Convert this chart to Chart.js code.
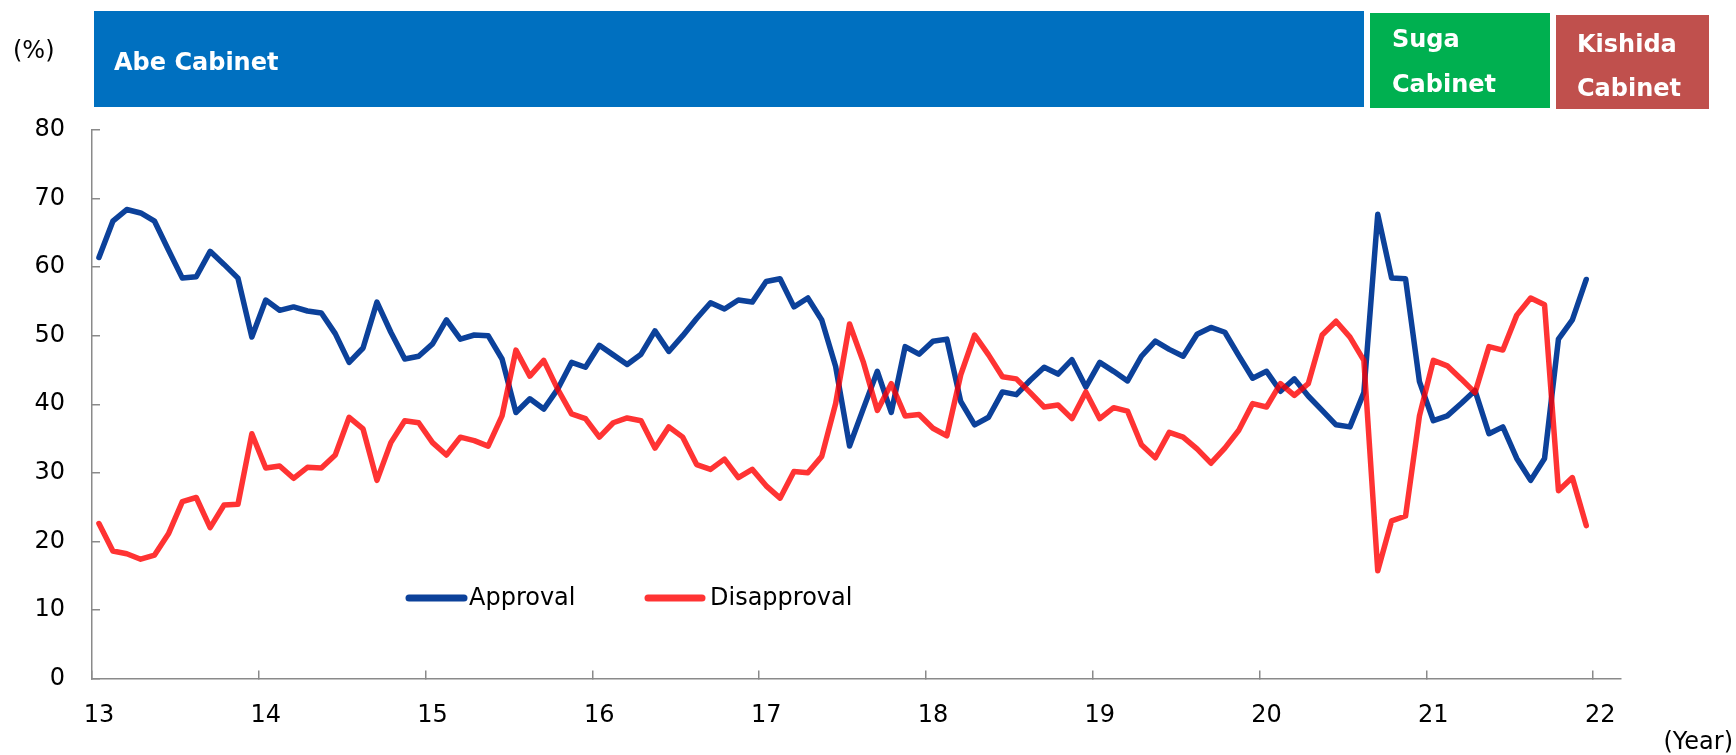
<!DOCTYPE html>
<html>
<head>
<meta charset="utf-8">
<script src="https://cdn.jsdelivr.net/npm/chart.js@4"></script>
<style>
  body { margin: 0; background: #fff; }
  #wrap { width: 1736px; height: 755px; position: relative; }
</style>
</head>
<body>
<div id="wrap"><canvas id="chart"></canvas></div>
<script>
// monthly survey results, Jan 2013 - Dec 2021
const yearLabels = ['13', '14', '15', '16', '17', '18', '19', '20', '21', '22'];
const approval = [
  61.4, 66.7, 68.4, 67.9, 66.7, 62.5, 58.4, 58.6, 62.3, 60.4, 58.4, 49.8,
  55.2, 53.7, 54.2, 53.6, 53.3, 50.3, 46.1, 48.2, 54.9, 50.5, 46.6, 47.0,
  48.8, 52.3, 49.5, 50.1, 50.0, 46.6, 38.8, 40.8, 39.3, 42.2, 46.1, 45.4,
  48.6, 47.2, 45.8, 47.3, 50.7, 47.7, 50.0, 52.5, 54.8, 53.9, 55.2, 54.9,
  57.9, 58.3, 54.2, 55.5, 52.3, 45.5, 33.9, 39.4, 44.8, 38.8, 48.4, 47.3,
  49.2, 49.5, 40.4, 37.0, 38.1, 41.8, 41.4, 43.5, 45.4, 44.4, 46.5, 42.5,
  46.1, 44.8, 43.4, 47.0, 49.2, 48.0, 47.0, 50.2, 51.2, 50.5, 47.1, 43.8,
  44.8, 41.9, 43.7, 41.2, 39.1, 37.0, 36.7, 41.7, 67.7, 58.4, 58.3, 43.3,
  37.6, 38.3, 40.1, 42.0, 35.7, 36.7, 32.1, 28.9, 32.1, 49.5, 52.3, 58.2
];
const disapproval = [
  22.6, 18.6, 18.2, 17.4, 18.0, 21.1, 25.8, 26.4, 22.0, 25.3, 25.4, 35.7,
  30.7, 31.0, 29.2, 30.8, 30.7, 32.6, 38.1, 36.4, 28.9, 34.4, 37.6, 37.3,
  34.4, 32.6, 35.2, 34.7, 33.9, 38.3, 47.9, 44.1, 46.4, 42.2, 38.6, 37.9,
  35.2, 37.3, 38.0, 37.6, 33.6, 36.7, 35.2, 31.2, 30.5, 32.0, 29.3, 30.5,
  28.1, 26.3, 30.2, 30.0, 32.4, 40.1, 51.7, 46.1, 39.1, 43.0, 38.3, 38.5,
  36.5, 35.4, 44.3, 50.1, 47.2, 44.0, 43.7, 41.7, 39.6, 39.9, 37.9, 41.8,
  37.9, 39.5, 39.0, 34.1, 32.2, 35.9, 35.2, 33.5, 31.4, 33.6, 36.2, 40.1,
  39.6, 43.0, 41.3, 43.0, 50.1, 52.1, 49.8, 46.4, 15.7, 23.0, 23.7, 38.3,
  46.4, 45.6, 43.7, 41.7, 48.4, 47.9, 53.0, 55.5, 54.5, 27.4, 29.3, 22.3
];

// 110 monthly slots on the axis, year label on each January
const months = [];
for (let i = 0; i < 110; i++) {
  months.push(i % 12 === 0 ? yearLabels[i / 12] : '');
}

const FONT = '"DejaVu Sans", Verdana, sans-serif';
const axisGray = '#8a8a8a';

const cabinets = [
  { lines: ['Abe Cabinet'], color: '#0070c0', box: [94, 11, 1364, 107], tx: 114, ty: [70] },
  { lines: ['Suga', 'Cabinet'], color: '#00b050', box: [1370, 13, 1550, 108], tx: 1392, ty: [47, 92] },
  { lines: ['Kishida', 'Cabinet'], color: '#c0504d', box: [1556, 15, 1709, 109], tx: 1577, ty: [52, 96] }
];

const extras = {
  id: 'extras',
  beforeDraw(chart) {
    const ctx = chart.ctx;
    ctx.save();
    for (const c of cabinets) {
      const [x1, y1, x2, y2] = c.box;
      ctx.fillStyle = c.color;
      ctx.fillRect(x1, y1, x2 - x1, y2 - y1);
      ctx.fillStyle = '#fff';
      ctx.font = 'bold 24px ' + FONT;
      ctx.textAlign = 'left';
      ctx.textBaseline = 'alphabetic';
      c.lines.forEach((t, i) => ctx.fillText(t, c.tx, c.ty[i]));
    }
    ctx.fillStyle = '#000';
    ctx.font = '24px ' + FONT;
    ctx.fillText('(%)', 13, 58);
    ctx.textAlign = 'right';
    ctx.fillText('(Year)', 1733, 749);
    ctx.restore();
  },
  afterDraw(chart) {
    // legend inside the plot
    const ctx = chart.ctx;
    const items = [[409, 464, 469], [648, 702, 710]];
    ctx.save();
    chart.data.datasets.forEach((ds, i) => {
      const [a, b, tx] = items[i];
      ctx.strokeStyle = ds.borderColor;
      ctx.lineWidth = 7;
      ctx.lineCap = 'round';
      ctx.beginPath();
      ctx.moveTo(a, 598);
      ctx.lineTo(b, 598);
      ctx.stroke();
      ctx.fillStyle = '#000';
      ctx.font = '24px ' + FONT;
      ctx.textBaseline = 'middle';
      ctx.fillText(ds.label, tx, 599);
    });
    ctx.restore();
  }
};

new Chart(document.getElementById('chart'), {
  type: 'line',
  data: {
    labels: months,
    datasets: [{
      label: 'Approval',
      data: approval,
      borderColor: '#0c419a',
      borderWidth: 5.5,
      pointRadius: 0,
      tension: 0,
      borderJoinStyle: 'round',
      borderCapStyle: 'round',
      order: 1
    }, {
      label: 'Disapproval',
      data: disapproval,
      borderColor: 'rgba(255, 0, 0, 0.8)',
      borderWidth: 5.5,
      pointRadius: 0,
      tension: 0,
      borderJoinStyle: 'round',
      borderCapStyle: 'round',
      order: 0
    }]
  },
  options: {
    responsive: true,
    maintainAspectRatio: false,
    animation: false,
    layout: {
      padding: { top: 130, right: 115, left: 0, bottom: 0 }
    },
    plugins: {
      legend: { display: false },
      tooltip: { enabled: false }
    },
    scales: {
      x: {
        offset: true,
        grid: {
          offset: true,
          drawOnChartArea: false,
          tickLength: -8,
          lineWidth: 1.5,
          color: c => (c.index % 12 === 0 ? axisGray : 'rgba(0,0,0,0)')
        },
        border: { color: axisGray, width: 1.5 },
        ticks: {
          autoSkip: false,
          maxRotation: 0,
          minRotation: 0,
          padding: 31,
          color: '#000',
          font: { family: FONT, size: 24 }
        },
        afterFit: s => { s.height = 76.5; }
      },
      y: {
        min: 0,
        max: 80,
        grid: {
          drawOnChartArea: false,
          tickLength: -8,
          lineWidth: 1.5,
          color: axisGray
        },
        border: { color: axisGray, width: 1.5 },
        ticks: {
          stepSize: 10,
          padding: 35,
          color: '#000',
          font: { family: FONT, size: 24 }
        },
        afterFit: s => { s.width = 92; }
      }
    }
  },
  plugins: [extras]
});
</script>
</body>
</html>
